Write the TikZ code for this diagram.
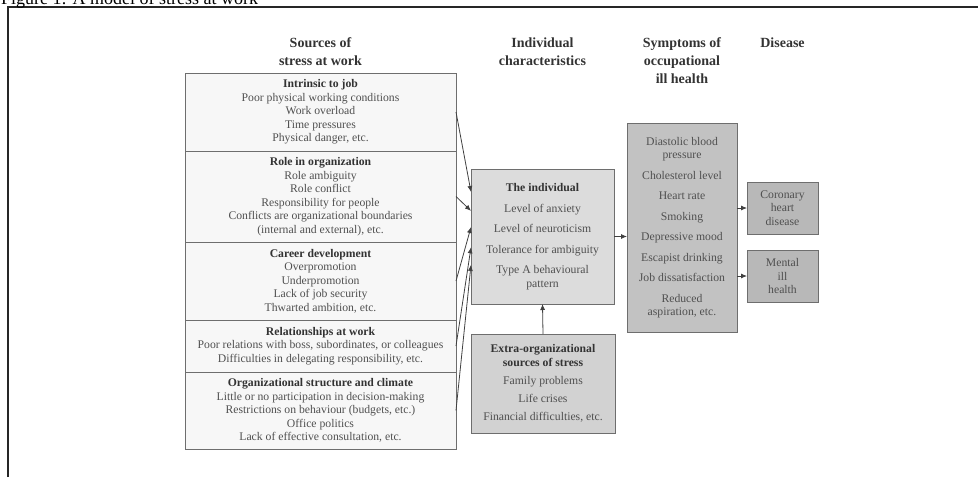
\documentclass[tikz,border=0pt]{standalone}
\usepackage{fontspec}
\setmainfont{Liberation Serif}
\usetikzlibrary{arrows.meta,positioning,calc}
\definecolor{txtgray}{HTML}{505050}
\definecolor{headgray}{HTML}{333333}
\definecolor{linegray}{HTML}{6E6E6E}
\definecolor{srcfill}{HTML}{F7F7F7}
\definecolor{indfill}{HTML}{DCDCDC}
\definecolor{extrafill}{HTML}{D2D2D2}
\definecolor{symfill}{HTML}{C2C2C2}
\definecolor{disfill}{HTML}{B8B8B8}
\newcommand{\hd}[1]{\textbf{\color{headgray}#1}}

\begin{document}
\begin{tikzpicture}[x=1pt, y=-1pt, node distance=0pt, every node/.style={font=\fontsize{11.7}{13.5}\selectfont, text=txtgray}]
\tikzset{box/.style={draw=linegray, line width=1pt, align=center, inner xsep=2pt, inner ysep=0pt, outer sep=0pt}}
\tikzset{srcbox/.style={box, fill=srcfill, minimum width=271pt, anchor=north}}
\tikzset{arrow/.style={-{Latex[length=6pt,width=5pt]}, line width=0.8pt, draw=black!75}}
\tikzset{head/.style={font=\fontsize{14}{18}\selectfont\bfseries, text=headgray, align=center, anchor=north, inner sep=0pt}}
\useasboundingbox (0,0) rectangle (978,477);
\draw[line width=1.3pt, black!85] (8,477) -- (8,7) -- (978,7);
\node[font=\fontsize{18}{20}\selectfont, text=black, anchor=base west, inner sep=0pt] (caption) at (1,4) {Figure 1: A model of stress at work};
% column headings
\node[head] (hsrc) at (320.5,37.5) {Sources of\\stress at work};
\node[head] (hind) at (542.5,37.5) {Individual\\characteristics};
\node[head] (hsym) at (682,37.5) {Symptoms of\\occupational\\ill health};
\node[head] (hdis) at (782.5,37.5) {Disease};
% sources of stress
\node[srcbox, minimum height=78pt] (intrinsic) at (320.5,73) {\hd{Intrinsic to job}\\Poor physical working conditions\\Work overload\\Time pressures\\Physical danger, etc.};
\node[srcbox, minimum height=91pt, below=of intrinsic] (role) {\hd{Role in organization}\\Role ambiguity\\Role conflict\\Responsibility for people\\Conflicts are organizational boundaries\\(internal and external), etc.};
\node[srcbox, minimum height=78pt, below=of role] (career) {\hd{Career development}\\Overpromotion\\Underpromotion\\Lack of job security\\Thwarted ambition, etc.};
\node[srcbox, minimum height=52pt, below=of career] (relations) {\hd{Relationships at work}\\Poor relations with boss, subordinates, or colleagues\\Difficulties in delegating responsibility, etc.};
\node[srcbox, minimum height=77pt, below=of relations] (climate) {\hd{Organizational structure and climate}\\Little or no participation in decision-making\\Restrictions on behaviour (budgets, etc.)\\Office politics\\Lack of effective consultation, etc.};
% individual and outside sources
\node[box, fill=indfill, minimum width=143pt, minimum height=135pt, anchor=north west] (indiv) at (471,169) {\hd{The individual}\\[7pt]Level of anxiety\\[7pt]Level of neuroticism\\[7pt]Tolerance for ambiguity\\[7pt]Type A behavioural\\pattern};
\node[box, fill=extrafill, minimum width=144pt, minimum height=99pt, anchor=north west] (extra) at (471,334) {\hd{Extra-organizational}\\\hd{sources of stress}\\[4.5pt]Family problems\\[4.5pt]Life crises\\[4.5pt]Financial difficulties, etc.};
% symptoms and disease
\node[box, fill=symfill, minimum width=110pt, minimum height=209pt, anchor=north west] (symptoms) at (627,123) {Diastolic blood\\pressure\\[7pt]Cholesterol level\\[7pt]Heart rate\\[7pt]Smoking\\[7pt]Depressive mood\\[7pt]Escapist drinking\\[7pt]Job dissatisfaction\\[7pt]Reduced\\aspiration, etc.};
\node[box, fill=disfill, minimum width=71pt, minimum height=52pt, anchor=north west] (coronary) at (747,182) {Coronary\\heart\\disease};
\node[box, fill=disfill, minimum width=71pt, minimum height=52pt, anchor=north west] (mental) at (747,250) {Mental\\ill\\health};
% arrows
\draw[arrow] (intrinsic.east) -- ($(indiv.north west)!0.17!(indiv.south west)$);
\draw[arrow] (role.east) -- ($(indiv.north west)!0.31!(indiv.south west)$);
\draw[arrow] (career.east) -- ($(indiv.north west)!0.43!(indiv.south west)$);
\draw[arrow] (relations.east) -- ($(indiv.north west)!0.58!(indiv.south west)$);
\draw[arrow] (climate.east) -- ($(indiv.north west)!0.71!(indiv.south west)$);
\draw[arrow] (extra.north) -- (indiv.south);
\draw[arrow] (indiv.east) -- (indiv.east -| symptoms.west);
\draw[arrow] (coronary.west -| symptoms.east) -- (coronary.west);
\draw[arrow] (mental.west -| symptoms.east) -- (mental.west);
\end{tikzpicture}
\end{document}
